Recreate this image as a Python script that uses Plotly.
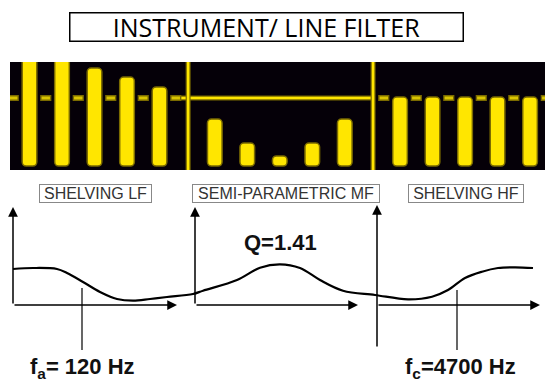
import plotly.graph_objects as go

# ---------------- data: EQ screen (top band) ----------------
LF_POS = [0.6, 1.6, 2.6, 3.6, 4.6]
MF_POS = [6.3, 7.3, 8.3, 9.3, 10.3]
HF_POS = [12.0, 13.0, 14.0, 15.0, 16.0]
LF_LEVEL = [13.5, 13.5, 10.0, 7.0, 3.7]
MF_LEVEL = [-7.0, -15.0, -19.3, -15.0, -7.0]
HF_LEVEL = [0.3, 0.3, 0.3, 0.3, 0.3]
BAR_FLOOR = -22.7
DIVIDERS = [5.48, 11.17]

# ---------------- data: response curve (bottom) ----------------
CURVE_X = [13, 33, 57, 67, 83, 100, 117, 133, 150, 167, 193, 203, 237, 260,
           280, 300, 320, 343, 375, 408, 432, 448, 465, 482, 498, 515, 533]
CURVE_Y = [36, 37, 36, 32, 23, 13, 6, 4.3, 6, 8, 11, 14.3, 25, 37.3,
           40.7, 37, 25, 14.3, 10, 5.7, 8.3, 15, 27, 33.3, 37, 37.7, 37]
FRAME_X0 = [13, 195, 377]
FRAME_X1 = [177, 358, 540]
FRAME_TOP = [98, 98, 100]
FRAME_BOTTOM = [0, 0, -43]
FREQ_MARK_X = [82, 457]
FREQ_MARK_TOP = [17, 15]
FREQ_MARK_BOTTOM = -45
FREQ_LABELS = ["f<sub>a</sub>= 120 Hz", "f<sub>c</sub>=4700 Hz"]
FREQ_LABEL_X = [28, 403]
SECTION_LABELS = ["SHELVING LF", "SEMI-PARAMETRIC MF", "SHELVING HF"]
SECTION_X = [95.5, 286, 466]
SECTION_W = [111, 186, 114]
Q_LABEL = "Q=1.41"
TITLE = "INSTRUMENT/ LINE FILTER"

YEL = "#FFE600"
OLIVE = "#7a6a00"

fig = go.Figure()

pos = LF_POS + MF_POS + HF_POS
lev = LF_LEVEL + MF_LEVEL + HF_LEVEL

# horizontal 0-level line of the mid section
fig.add_trace(go.Scatter(x=[DIVIDERS[0] - 0.35, DIVIDERS[1]], y=[0, 0], mode="lines",
                         line=dict(color=OLIVE, width=5), xaxis="x", yaxis="y",
                         hoverinfo="skip", showlegend=False))
fig.add_trace(go.Scatter(x=[DIVIDERS[0] - 0.35, DIVIDERS[1]], y=[0, 0], mode="lines",
                         line=dict(color=YEL, width=2.5), xaxis="x", yaxis="y",
                         hoverinfo="skip", showlegend=False))
# dividers
for d in DIVIDERS:
    fig.add_trace(go.Scatter(x=[d, d], y=[-30, 20], mode="lines",
                             line=dict(color=OLIVE, width=5), xaxis="x", yaxis="y",
                             hoverinfo="skip", showlegend=False))
    fig.add_trace(go.Scatter(x=[d, d], y=[-30, 20], mode="lines",
                             line=dict(color=YEL, width=2.5), xaxis="x", yaxis="y",
                             hoverinfo="skip", showlegend=False))

# small dashes between bars at 0 level (LF and HF sections)
dash_x = [p - 0.5 for p in LF_POS] + [LF_POS[-1] + 0.5] + [p - 0.5 for p in HF_POS] + [HF_POS[-1] + 0.5]
fig.add_trace(go.Scatter(x=dash_x, y=[0] * len(dash_x), mode="markers",
                         marker=dict(symbol="line-ew", size=8, line=dict(color=OLIVE, width=6)),
                         xaxis="x", yaxis="y", hoverinfo="skip", showlegend=False))
fig.add_trace(go.Scatter(x=dash_x, y=[0] * len(dash_x), mode="markers",
                         marker=dict(symbol="line-ew", size=6, line=dict(color="#d9c400", width=3)),
                         xaxis="x", yaxis="y", hoverinfo="skip", showlegend=False))

# bars
fig.add_trace(go.Bar(x=pos, y=[v - BAR_FLOOR for v in lev], base=BAR_FLOOR, width=0.45,
                     marker=dict(color=YEL, line=dict(color=OLIVE, width=1.5)),
                     xaxis="x", yaxis="y", hoverinfo="skip", showlegend=False))

# response curve
fig.add_trace(go.Scatter(x=CURVE_X, y=CURVE_Y, mode="lines",
                         line=dict(color="black", width=2.2, shape="spline", smoothing=1.0),
                         xaxis="x2", yaxis="y2", hoverinfo="skip", showlegend=False))
# frequency marker lines
for fx, ft in zip(FREQ_MARK_X, FREQ_MARK_TOP):
    fig.add_trace(go.Scatter(x=[fx, fx], y=[FREQ_MARK_BOTTOM, ft], mode="lines",
                             line=dict(color="black", width=1.2),
                             xaxis="x2", yaxis="y2", hoverinfo="skip", showlegend=False))

annotations = []
# frame arrows
for x0, x1, yt, yb in zip(FRAME_X0, FRAME_X1, FRAME_TOP, FRAME_BOTTOM):
    annotations.append(dict(x=x0, y=yt, ax=x0, ay=yb, xref="x2", yref="y2", axref="x2", ayref="y2",
                            text="", showarrow=True, arrowhead=2, arrowsize=1.3, arrowwidth=1.5,
                            arrowcolor="black"))
    annotations.append(dict(x=x1, y=0, ax=x0, ay=0, xref="x2", yref="y2", axref="x2", ayref="y2",
                            text="", showarrow=True, arrowhead=2, arrowsize=1.3, arrowwidth=1.5,
                            arrowcolor="black"))
# section labels
for lab, sx, sw in zip(SECTION_LABELS, SECTION_X, SECTION_W):
    annotations.append(dict(x=sx, y=111.5, xref="x2", yref="y2", text=lab, showarrow=False,
                            xanchor="center", yanchor="middle",
                            font=dict(family="Liberation Sans, Arial", size=16, color="#333333"),
                            bordercolor="#888888", borderwidth=1, borderpad=0,
                            width=sw, height=17, bgcolor="white"))
# Q label
annotations.append(dict(x=280, y=63, xref="x2", yref="y2", text="<b>" + Q_LABEL + "</b>",
                        showarrow=False, xanchor="center", yanchor="middle",
                        font=dict(family="Liberation Sans, Arial", size=22, color="#111111")))
# frequency labels
for lab, lx in zip(FREQ_LABELS, FREQ_LABEL_X):
    annotations.append(dict(x=lx, y=-63, xref="x2", yref="y2", text="<b>" + lab + "</b>",
                            showarrow=False, xanchor="left", yanchor="middle",
                            font=dict(family="Liberation Sans, Arial", size=22, color="#111111")))
# title
annotations.append(dict(x=266.5 / 545, y=1 - 27 / 381, xref="paper", yref="paper", text=TITLE,
                        showarrow=False, xanchor="center", yanchor="middle",
                        font=dict(family="Open Sans", size=25, color="black"),
                        bordercolor="black", borderwidth=1.5, borderpad=0, width=392, height=27))

fig.update_layout(
    width=545, height=381,
    margin=dict(l=0, r=0, t=0, b=0),
    paper_bgcolor="white", plot_bgcolor="rgba(0,0,0,0)",
    barcornerradius=4,
    showlegend=False,
    xaxis=dict(domain=[10 / 545, 1], range=[0, 16.46], visible=False, fixedrange=True),
    yaxis=dict(domain=[(381 - 170) / 381, (381 - 62) / 381], range=[-24, 12], visible=False,
               fixedrange=True),
    xaxis2=dict(domain=[0, 1], range=[0, 545], visible=False, anchor="y2", fixedrange=True),
    yaxis2=dict(domain=[0, 1], range=[-76, 305], visible=False, anchor="x2", fixedrange=True),
    shapes=[dict(type="rect", xref="x domain", yref="y domain", x0=0, x1=1, y0=0, y1=1,
                 fillcolor="#050008", line=dict(width=0), layer="below")],
    annotations=annotations,
)

fig.write_html("out.html", config={"displayModeBar": False},
               post_script="document.body.style.margin='0';document.body.style.overflow='hidden';")
